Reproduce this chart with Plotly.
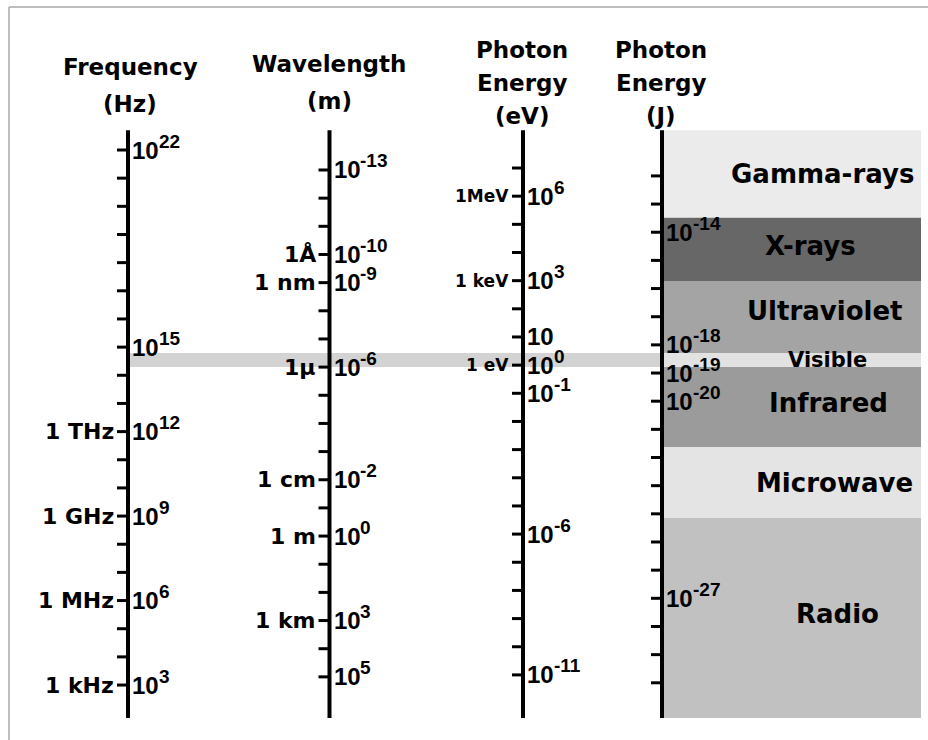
import plotly.graph_objects as go

# ---------------- data (exponents) ----------------
# Frequency axis (Hz)
freq_tick_exps = list(range(3, 23))
freq_label_exps = [22, 15, 12, 9, 6, 3]
freq_unit_exps = [12, 9, 6, 3]
freq_unit_names = ["1 THz", "1 GHz", "1 MHz", "1 kHz"]

# Wavelength axis (m)
wl_tick_exps = list(range(-13, 6))
wl_label_exps = [-13, -10, -9, -6, -2, 0, 3, 5]
wl_unit_exps = [-10, -9, -6, -2, 0, 3]
wl_unit_names = ["1Å", "1 nm", "1µ", "1 cm", "1 m", "1 km"]

# Photon energy axis (eV)
ev_tick_exps = list(range(-11, 8))
ev_label_exps = [6, 3, 1, 0, -1, -6, -11]
ev_unit_exps = [6, 3, 0]
ev_unit_names = ["1MeV", "1 keV", "1 eV"]

# Photon energy axis (J)
j_tick_exps = list(range(-30, -11))
j_label_exps = [-14, -18, -19, -20, -27]

# Spectral bands, edges in log10(frequency / Hz)
band_names = ["Gamma-rays", "X-rays", "Ultraviolet", "Visible", "Infrared", "Microwave", "Radio"]
band_upper = [22.7, 19.59, 17.35, 14.79, 14.29, 11.45, 8.93]
band_lower = [19.59, 17.35, 14.79, 14.29, 11.45, 8.93, 1.83]

# Conversions of each scale to log10(frequency / Hz), as drawn
WL_K = 8.29     # log f = WL_K - log(lambda)
EV_K = 14.36    # log f = log(E_eV) + EV_K
J_K = 33.08     # log f = log(E_J) + J_K
AXIS_TOP = 22.7
AXIS_BOTTOM = 1.83

# ---------------- layout / style ----------------
W, H = 928, 740
S = 28.16          # pixels per decade
Y_REF_PX = 150     # pixel row of 10^22 Hz


def px_to_v(px):
    return 22 - (px - Y_REF_PX) / S


def v_paper(px):
    return 1 - px / H


AX_X = {"freq": 128, "wl": 329.5, "ev": 523, "j": 662}
TICK_LEN = 11
BAND_X0, BAND_X1 = 662, 921
band_colors = ["#ebebeb", "#676767", "#a4a4a4", "#e2e2e2", "#9b9b9b", "#e4e4e4", "#c1c1c1"]
band_label_x = [822, 810, 825, 827, 828, 834, 837]
band_label_dy = [0, 3, 6, 0, 4, 0, 4]  # px shift upwards
VIS_STRIP_COLOR = "#d3d3d3"

WORD_FONT = "DejaVu Sans"
NUM_FONT = "Liberation Sans"
BASE_SIZE = 24
EXP_SIZE = 19
BASE_W = 2 * 0.556 * BASE_SIZE   # width of "10"

fig = go.Figure()

convs = {
    "freq": lambda e: e,
    "wl": lambda e: WL_K - e,
    "ev": lambda e: e + EV_K,
    "j": lambda e: e + J_K,
}
ticks = {"freq": freq_tick_exps, "wl": wl_tick_exps, "ev": ev_tick_exps, "j": j_tick_exps}

shapes = []
for name, up, lo, col in zip(band_names, band_upper, band_lower, band_colors):
    shapes.append(dict(type="rect", xref="x", yref="y", x0=BAND_X0, x1=BAND_X1, y0=lo, y1=up,
                       fillcolor=col, line=dict(width=0), layer="below"))
vi = band_names.index("Visible")
shapes.append(dict(type="rect", xref="x", yref="y", x0=AX_X["freq"] + 2, x1=BAND_X0,
                   y0=band_lower[vi], y1=band_upper[vi], fillcolor=VIS_STRIP_COLOR,
                   line=dict(width=0), layer="below"))
shapes.append(dict(type="line", xref="x", yref="paper", x0=9, x1=9, y0=v_paper(7), y1=0,
                   line=dict(color="#a8a8a8", width=1.5)))
shapes.append(dict(type="line", xref="x", yref="paper", x0=9, x1=W, y0=v_paper(7), y1=v_paper(7),
                   line=dict(color="#a8a8a8", width=1.5)))

for key, conv in convs.items():
    ax = AX_X[key]
    xs, ys = [], []
    for e in ticks[key]:
        v = conv(e)
        xs += [ax - TICK_LEN, ax, None]
        ys += [v, v, None]
    fig.add_trace(go.Scatter(x=xs, y=ys, mode="lines", line=dict(color="black", width=3),
                             hoverinfo="skip", showlegend=False))
    fig.add_trace(go.Scatter(x=[ax, ax], y=[AXIS_BOTTOM, AXIS_TOP], mode="lines",
                             line=dict(color="black", width=4), hoverinfo="skip", showlegend=False))

annotations = []


def txt(x, y, text, size, family, xanchor="left", xref="x", yref="y", yshift=0):
    return dict(x=x, y=y, xref=xref, yref=yref, text=text, showarrow=False,
                xanchor=xanchor, yanchor="middle", yshift=yshift,
                font=dict(family=family, size=size, color="black", weight="bold"))


label_sets = [("freq", freq_label_exps), ("wl", wl_label_exps),
              ("ev", ev_label_exps), ("j", j_label_exps)]
for key, exps in label_sets:
    x0 = AX_X[key] + 2
    for e in exps:
        v = convs[key](e)
        annotations.append(txt(x0, v, "10", BASE_SIZE, NUM_FONT))
        if e != 1:
            annotations.append(txt(x0 + BASE_W, v, "%d" % e, EXP_SIZE, NUM_FONT, yshift=9))

unit_sets = [("freq", freq_unit_exps, freq_unit_names, 22),
             ("wl", wl_unit_exps, wl_unit_names, 22),
             ("ev", ev_unit_exps, ev_unit_names, 17)]
for key, exps, names, size in unit_sets:
    for e, n in zip(exps, names):
        annotations.append(txt(AX_X[key] - TICK_LEN - 1, convs[key](e), n, size, WORD_FONT,
                               xanchor="right"))

for name, up, lo, lx, dy in zip(band_names, band_upper, band_lower, band_label_x, band_label_dy):
    annotations.append(txt(lx, (up + lo) / 2, name, 21 if name == "Visible" else 26, WORD_FONT,
                           xanchor="center", yshift=dy))

titles = [
    (130, [("Frequency", 67), ("(Hz)", 104)]),
    (329, [("Wavelength", 64), ("(m)", 101)]),
    (522, [("Photon", 49.5), ("Energy", 82.5), ("(eV)", 115.5)]),
    (661, [("Photon", 49.5), ("Energy", 82.5), ("(J)", 115.5)]),
]
for tx, lines in titles:
    for t, py in lines:
        annotations.append(txt(tx, v_paper(py), t, 23, WORD_FONT, xanchor="center", yref="paper"))

fig.update_layout(
    width=W, height=H, margin=dict(l=0, r=0, t=0, b=0, pad=0),
    paper_bgcolor="white", plot_bgcolor="white",
    xaxis=dict(range=[0, W], visible=False, fixedrange=True),
    yaxis=dict(range=[px_to_v(H), px_to_v(0)], visible=False, fixedrange=True),
    shapes=shapes, annotations=annotations, showlegend=False,
)

fig.write_html("out.html", config={"displayModeBar": False},
               post_script="document.body.style.margin='0';document.body.style.padding='0';"
                           "document.documentElement.style.overflow='hidden';")
